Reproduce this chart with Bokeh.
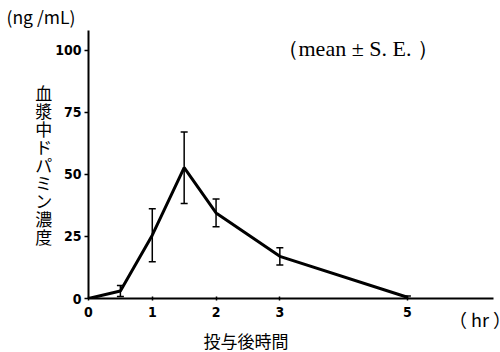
from bokeh.plotting import figure
from bokeh.models import Range1d, Label, Whisker, ColumnDataSource, TeeHead, FixedTicker, Title
from bokeh.embed import file_html
from bokeh.resources import INLINE

# data
hours = [0, 0.5, 1, 1.5, 2, 3, 5]
conc = [0, 3.0, 25.5, 52.7, 34.5, 17.0, 0.5]
se = [0, 2.2, 10.7, 14.4, 5.6, 3.5, 0.5]
x_ticks = [0, 1, 2, 3, 5]
y_ticks = [0, 25, 50, 75, 100]
y_title = "血漿中ドパミン濃度"
x_title = "投与後時間"
x_unit = "（ hr ）"
y_unit = "(ng /mL)"
note = "（mean ± S. E. ）"

upper = [c + s for c, s in zip(conc, se)]
lower = [c - s for c, s in zip(conc, se)]
src = ColumnDataSource(dict(x=hours, y=conc, upper=upper, lower=lower))

p = figure(width=500, height=352, output_backend="svg", toolbar_location=None,
           x_range=Range1d(0, 6.35), y_range=Range1d(0, 108),
           min_border_left=88, min_border_right=7, min_border_top=29, min_border_bottom=54)
p.outline_line_color = None
p.xgrid.visible = False
p.ygrid.visible = False
p.background_fill_color = "white"
p.border_fill_color = "white"

p.line("x", "y", source=src, line_width=3, line_color="black")
w = Whisker(source=src, base="x", upper="upper", lower="lower", line_width=1.5, line_color="black",
            upper_head=TeeHead(size=7, line_width=1.5, line_color="black"),
            lower_head=TeeHead(size=7, line_width=1.5, line_color="black"))
p.add_layout(w)

jp = "Noto Sans CJK JP"
tick_font = "DejaVu Sans Condensed, Liberation Sans, sans-serif"
for ax in (p.xaxis[0], p.yaxis[0]):
    ax.axis_line_width = 2
    ax.axis_line_color = "black"
    ax.major_tick_line_width = 1.5
    ax.minor_tick_line_color = None
    ax.major_label_text_font = tick_font
    ax.major_label_text_font_style = "bold"
    ax.major_label_text_font_size = "14px"
    ax.major_label_text_color = "black"
    ax.axis_label_text_color = "black"
    ax.axis_label_text_font = jp
    ax.axis_label_text_font_style = "normal"
p.xaxis.ticker = FixedTicker(ticks=x_ticks)
p.yaxis.ticker = FixedTicker(ticks=y_ticks)
p.xaxis.major_tick_in = 2
p.xaxis.major_tick_out = 2
p.xaxis.major_label_standoff = 6
p.yaxis.major_tick_in = 0
p.yaxis.major_tick_out = 4
p.yaxis.major_label_standoff = 3

ya = p.yaxis[0]
ya.axis_label = "\n".join(y_title)
ya.axis_label_orientation = "horizontal"
ya.axis_label_text_font_size = "17px"
ya.axis_label_text_line_height = 0.72
ya.axis_label_standoff = 0

# unit label sits at the right end of the x axis, on the tick-label row;
# trailing ideographic spaces shift the centred label left of the axis end
xa = p.xaxis[0]
xa.axis_label = x_unit + "\u3000\u3000"
xa.axis_label_align = "end"
xa.axis_label_standoff_mode = "axis"
xa.axis_label_standoff = 7
xa.axis_label_text_font_size = "18px"

p.add_layout(Title(text=x_title, align="left", offset=115, text_font=jp, text_font_size="17px",
                   text_font_style="normal", text_color="black", standoff=-17), "below")
p.title = Title(text=y_unit, align="left", offset=-82, text_font=jp, text_font_size="17.5px",
                text_font_style="normal", text_color="black", standoff=3)

p.add_layout(Label(x=276, y=48, x_units="canvas", y_units="canvas", text=note,
                   text_align="left", text_baseline="middle", text_font="Liberation Serif",
                   text_font_size="22px", text_color="black"))

open("out.html", "w").write(file_html(p, INLINE))
